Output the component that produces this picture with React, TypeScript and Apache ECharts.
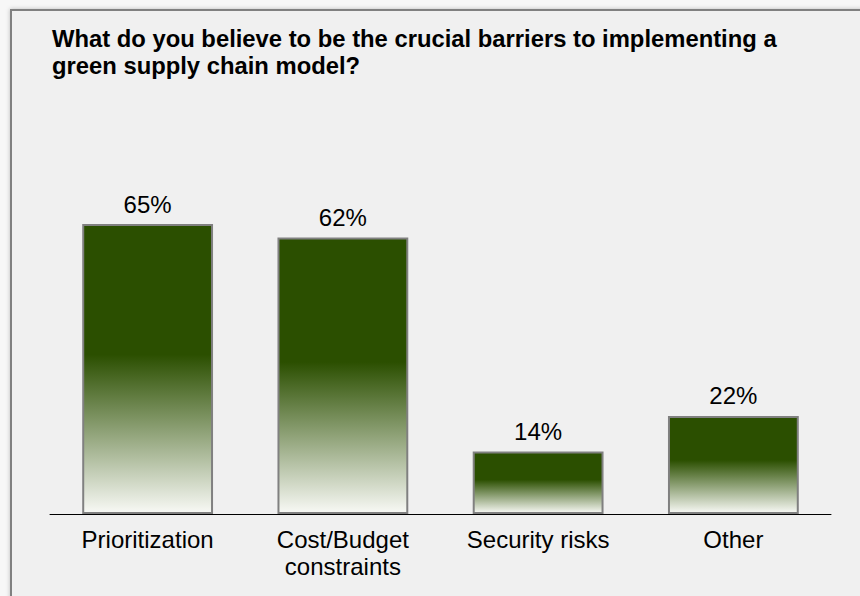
import React, { useEffect, useRef } from "react";
import * as echarts from "echarts";

const titleLines = [
  "What do you believe to be the crucial barriers to implementing a",
  "green supply chain model?",
];
const categories = ["Prioritization", "Cost/Budget\nconstraints", "Security risks", "Other"];
const values = [65, 62, 14, 22];

const FONT = "'Liberation Sans', Arial, sans-serif";

export default function App() {
  const ref = useRef<HTMLDivElement>(null);
  useEffect(() => {
    if (!ref.current) return;
    const chart = echarts.init(ref.current, null, { renderer: "svg" });
    const grad = new echarts.graphic.LinearGradient(0, 0, 0, 1, [
      { offset: 0, color: "#2b4f00" },
      { offset: 0.45, color: "#2b4f00" },
      { offset: 1, color: "#f8f9f5" },
    ]);
    chart.setOption({
      animation: false,
      backgroundColor: "#f7f7f7",
      graphic: [
        {
          type: "rect",
          z: -10,
          shape: { x: 11, y: 10, width: 900, height: 700 },
          style: {
            fill: "#f0f0f0",
            stroke: "#808080",
            lineWidth: 2,
            shadowBlur: 4,
            shadowColor: "rgba(0,0,0,0.25)",
          },
        },
      ],
      title: {
        text: titleLines.join("\n"),
        left: 47,
        top: 20,
        textStyle: {
          fontFamily: FONT,
          fontSize: 23.8,
          fontWeight: "bold",
          color: "#000",
          lineHeight: 27,
        },
      },
      grid: { left: 50, right: 29, top: 68, bottom: 82, containLabel: false },
      xAxis: {
        type: "category",
        data: categories,
        axisLine: { lineStyle: { color: "#000", width: 1 } },
        axisTick: { show: false },
        axisLabel: {
          fontFamily: FONT,
          fontSize: 24,
          color: "#000",
          margin: 12,
          lineHeight: 27,
          interval: 0,
        },
      },
      yAxis: { type: "value", min: 0, max: 100, show: false, splitLine: { show: false } },
      series: [
        {
          type: "bar",
          data: values,
          barCategoryGap: "33%",
          itemStyle: { color: grad, borderColor: "#808080", borderWidth: 2 },
          label: {
            show: true,
            position: "top",
            distance: 8,
            formatter: "{c}%",
            fontFamily: FONT,
            fontSize: 24,
            color: "#000",
          },
        },
      ],
    });
    return () => chart.dispose();
  }, []);
  return (
    <div
      ref={ref}
      style={{ position: "fixed", left: 0, top: 0, width: 860, height: 596 }}
    />
  );
}
